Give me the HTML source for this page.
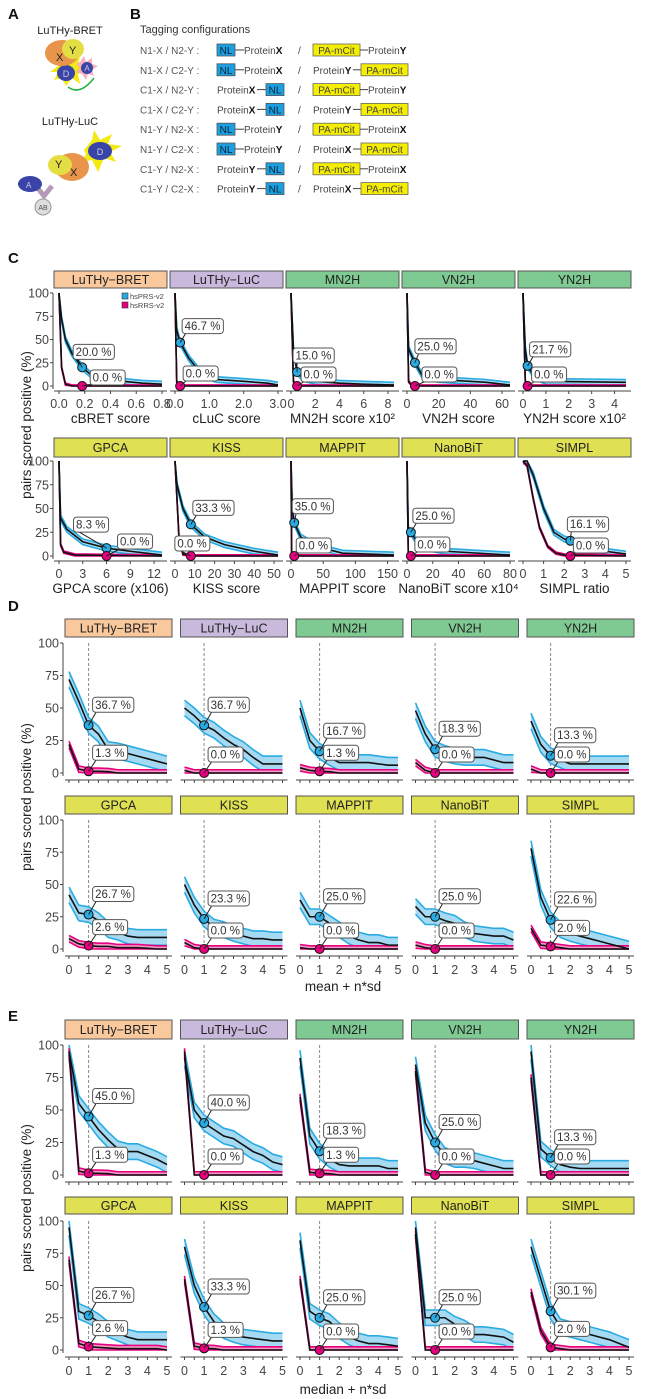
<!DOCTYPE html>
<html><head><meta charset="utf-8">
<style>
html,body{margin:0;padding:0;background:#fff;}
svg{display:block;font-family:"Liberation Sans",sans-serif;}
</style></head>
<body>
<svg id="fig" width="651" height="1399" viewBox="0 0 651 1399" xmlns="http://www.w3.org/2000/svg">
<!-- Panel A -->
<g>
<text x="8" y="19" font-size="15" font-weight="bold" fill="#111">A</text>
<text x="70" y="34" font-size="11" text-anchor="middle" fill="#222">LuTHy-BRET</text>
<polygon points="50,72 58,66 56,58 64,62 66,54 72,60 80,56 78,65 86,70 78,74 80,84 72,78 66,86 62,78 54,80 58,72" fill="#f2ea10"/>
<ellipse cx="66" cy="73" rx="9" ry="8" fill="#3a44a8"/>
<text x="66" y="77" font-size="9" text-anchor="middle" fill="#ccd">D</text>
<polygon points="80,62 84,56 86,62 92,58 92,64 98,66 92,70 94,76 88,74 86,80 82,74 76,72 80,68 76,64" fill="#f7a8b8" opacity="0.9"/>
<ellipse cx="87" cy="68" rx="6" ry="6" fill="#3a44a8"/>
<text x="87" y="71" font-size="8" text-anchor="middle" fill="#ccd">A</text>
<ellipse cx="62" cy="53" rx="17" ry="13" fill="#e8944a"/>
<ellipse cx="73" cy="49" rx="11" ry="10" fill="#e4de45"/>
<text x="56" y="61" font-size="11" fill="#222">X</text>
<text x="69" y="54" font-size="11" fill="#222">Y</text>
<path d="M68 87 Q80 96 94 78" stroke="#2bb34a" stroke-width="1.6" fill="none"/>
<text x="70" y="125" font-size="11" text-anchor="middle" fill="#222">LuTHy-LuC</text>
<polygon points="84,150 92,140 94,130 100,140 112,134 108,144 122,146 110,152 116,162 104,158 98,172 92,160 82,162 86,154" fill="#f2ea10"/>
<ellipse cx="100" cy="151" rx="12" ry="9" fill="#3a44a8"/>
<text x="100" y="155" font-size="9" text-anchor="middle" fill="#ccd">D</text>
<ellipse cx="72" cy="167" rx="17" ry="14" fill="#e8944a"/>
<ellipse cx="60" cy="165" rx="12" ry="10" fill="#e4de45"/>
<text x="55" y="168" font-size="11" fill="#222">Y</text>
<text x="70" y="176" font-size="11" fill="#222">X</text>
<path d="M36 186 L44 196 L52 186" stroke="#b49ab8" stroke-width="5" fill="none"/>
<ellipse cx="30" cy="184" rx="12" ry="8" fill="#3a44a8"/>
<text x="26" y="188" font-size="8" fill="#ccd">A</text>
<circle cx="43" cy="207" r="8" fill="#ddd" stroke="#999"/>
<text x="43" y="210" font-size="7" text-anchor="middle" fill="#555">AB</text>
</g>
<!-- Panel B -->
<g id="panelB">
<text x="130" y="19" font-size="15" font-weight="bold" fill="#111">B</text>
<text x="140" y="33" font-size="11" fill="#333">Tagging configurations</text>
</g>
<g id="charts"></g>
</svg>
<script>
// ---------- Panel B data ----------
const bLabels = ["N1-X / N2-Y :","N1-X / C2-Y :","C1-X / N2-Y :","C1-X / C2-Y :","N1-Y / N2-X :","N1-Y / C2-X :","C1-Y / N2-X :","C1-Y / C2-X :"];
const bLeftProt = ["X","X","X","X","Y","Y","Y","Y"];
const bLeftN = [true,true,false,false,true,true,false,false];
const bRightProt = ["Y","Y","Y","Y","X","X","X","X"];
const bRightN = [true,false,true,false,true,false,true,false];

// ---------- Panel C data ----------
const cNames = ["LuTHy\u2212BRET","LuTHy\u2212LuC","MN2H","VN2H","YN2H","GPCA","KISS","MAPPIT","NanoBiT","SIMPL"];
const cXTitles = ["cBRET score","cLuC score","MN2H score x10\u00b2","VN2H score","YN2H score x10\u00b2","GPCA score (x106)","KISS score","MAPPIT score","NanoBiT score x10\u2074","SIMPL ratio"];
const cXMax = [0.8,3,8.5,65,4.5,13,52,160,80,5];
const cTicks = [[0,0.2,0.4,0.6,0.8],[0,1,2,3],[0,2,4,6,8],[0,20,40,60],[0,1,2,3,4],[0,3,6,9,12],[0,10,20,30,40,50],[0,50,100,150],[0,20,40,60,80],[0,1,2,3,4,5]];
const cTickLabels = [["0.0","0.2","0.4","0.6","0.8"],["0.0","1.0","2.0","3.0"],["0","2","4","6","8"],["0","20","40","60"],["0","1","2","3","4"],["0","3","6","9","12"],["0","10","20","30","40","50"],["0","50","100","150"],["0","20","40","60","80"],["0","1","2","3","4","5"]];
const cPrsX = [[0,0.02,0.05,0.1,0.18,0.25,0.35,0.5,0.65,0.8],[0,0.05,0.15,0.4,0.8,1.2,2,2.7,3],[0,0.2,0.5,1,2,4,6,8.5],[0,1,5,10,20,50,65],[0,0.1,0.2,0.5,1,4.5],[0,0.2,1,3,6,9,13],[0,1,4,8,15,25,40,52],[0,2,5,15,40,80,160],[0,1,3,10,30,80],[0,0.2,0.5,1,1.5,2,2.3,3,4,5]];
const cPrsY = [[100,72,50,35,20,12,7,5,3,2],[100,60,46.7,30,12,7,5,3,1],[100,40,15,8,5,3,2,1],[100,40,25,10,7,4,1],[100,40,21.7,10,5,4],[100,40,28,15,8.3,5,1],[100,75,50,33.3,20,12,5,1],[100,50,35,20,10,3,1],[100,28,25,10,5,1],[100,100,85,50,25,18,16.1,10,5,2]];
const cRrsX = [[0,0.02,0.05,0.1,0.8],[0,0.05,0.1,3],[0,0.2,0.4,8.5],[0,1,3,65],[0,0.1,0.2,4.5],[0,0.2,0.6,2,13],[0,2,4,8,52],[0,1,3,160],[0,1,2,80],[0,0.2,0.5,0.8,1.2,1.6,2,5]];
const cRrsY = [[100,20,2,0,0],[100,5,0,0],[100,5,0,0],[100,5,0,0],[100,5,0,0],[100,12,4,1,0],[100,20,2,0,0],[100,3,0,0],[100,3,0,0],[100,95,60,30,10,3,1,0]];
const cMarkX = [0.18,0.15,0.5,5,0.2,6,8,5,3,2.3];
const cPrsLab = ["20.0 %","46.7 %","15.0 %","25.0 %","21.7 %","8.3 %","33.3 %","35.0 %","25.0 %","16.1 %"];
const cPrsVal = [20,46.7,15,25,21.7,8.3,33.3,35,25,16.1];
const cRrsLab = ["0.0 %","0.0 %","0.0 %","0.0 %","0.0 %","0.0 %","0.0 %","0.0 %","0.0 %","0.0 %"];
const cRrsVal = [0,0,0,0,0,0,0,0,0,0];

// ---------- Panel D data (mean + n*sd) ----------
const nSteps = [0,0.5,1,1.5,2,2.5,3,3.5,4,4.5,5];
const dPrs = [[72,55,36.7,30,18,17,15,13,11,9,7],[50,44,36.7,33,27,22,18,12,7,7,7],[50,25,16.7,12,8,8,8,8,7,6,6],[48,30,18.3,15,13,12,12,12,10,8,8],[40,22,13.3,10,7,7,7,7,7,7,7],[42,28,26.7,22,15,13,10,9,9,9,9],[50,34,23.3,17,15,12,10,8,8,7,7],[38,25,25.0,20,15,10,7,5,5,3,3],[33,25,25.0,22,20,15,12,11,10,10,7],[78,40,22.6,15,12,10,8,6,4,2,0]];
const dRrs = [[22,3,1.3,1.3,1,0,0,0,0,0,0],[2,0,0,0,0,0,0,0,0,0,0],[4,2,1.3,1,0,0,0,0,0,0,0],[8,2,0,0,0,0,0,0,0,0,0],[3,0,0,0,0,0,0,0,0,0,0],[8,4,2.6,2,2,1,1,1,0.5,0,0],[5,1,0,0,0,0,0,0,0,0,0],[1,0,0,0,0,0,0,0,0,0,0],[3,1,0,0,0,0,0,0,0,0,0],[16,3,2,1,0,0,0,0,0,0,0]];
const dPrsLab = ["36.7 %","36.7 %","16.7 %","18.3 %","13.3 %","26.7 %","23.3 %","25.0 %","25.0 %","22.6 %"];
const dRrsLab = ["1.3 %","0.0 %","1.3 %","0.0 %","0.0 %","2.6 %","0.0 %","0.0 %","0.0 %","2.0 %"];

// ---------- Panel E data (median + n*sd) ----------
const ePrs = [[95,55,45,35,27,20,18,18,15,12,8],[90,50,40,35,30,28,23,18,15,10,8],[90,30,18.3,12,8,7,7,7,7,5,5],[85,40,25,15,12,12,11,9,7,5,5],[95,20,13.3,8,6,5,5,5,5,5,5],[95,30,26.7,22,16,13,10,8,8,8,8],[80,50,33.3,22,15,12,10,9,8,7,7],[85,30,25,22,15,10,7,5,5,4,3],[95,25,25,25,20,17,12,12,11,10,6],[80,55,30.1,18,16,14,12,10,8,5,2]];
const eRrs = [[95,3,1.3,1.3,1,0,0,0,0,0,0],[95,0,0,0,0,0,0,0,0,0,0],[60,2,1.3,1,0,0,0,0,0,0,0],[80,2,0,0,0,0,0,0,0,0,0],[75,0,0,0,0,0,0,0,0,0,0],[70,5,2.6,2,1.5,1,1,1,1,1,0],[55,3,1.3,1,0,0,0,0,0,0,0],[55,0,0,0,0,0,0,0,0,0,0],[90,0,0,0,0,0,0,0,0,0,0],[45,15,2,1,0,0,0,0,0,0,0]];
const ePrsLab = ["45.0 %","40.0 %","18.3 %","25.0 %","13.3 %","26.7 %","33.3 %","25.0 %","25.0 %","30.1 %"];
const eRrsLab = ["1.3 %","0.0 %","1.3 %","0.0 %","0.0 %","2.6 %","1.3 %","0.0 %","0.0 %","2.0 %"];

const yTicks = [0,25,50,75,100];

// ---------- drawing ----------
const NS = "http://www.w3.org/2000/svg";
const stripCols = ["#f9c89c","#c9badd","#7fca92","#7fca92","#7fca92","#dfe052","#dfe052","#dfe052","#dfe052","#dfe052"];
const BLUE="#29abe2", BLUEF="#a6daf2", PINK="#e6007e", PINKF="#f29ac6";
function mk(tag, attrs, parent, txt){
  const e=document.createElementNS(NS,tag);
  for(const k in attrs) e.setAttribute(k,attrs[k]);
  if(txt!==undefined) e.textContent=txt;
  parent.appendChild(e); return e;
}
const root=document.getElementById("charts");

// Panel B rows
const pb=document.getElementById("panelB");
bLabels.forEach((lab,i)=>{
  const y=50+i*19.8;
  const g=mk("g",{},pb);
  
  
  mk("text",{x:140,y:y+4,"font-size":10,fill:"#555"},g,lab);
  // left construct
  function nl(x){const r=mk("rect",{x:x,y:y-6,width:18,height:12,fill:"#1a9fe0",stroke:"#555","stroke-width":0.8},g);
    mk("text",{x:x+9,y:y+4,"font-size":10,"text-anchor":"middle",fill:"#123"},g,"NL");}
  function pa(x){mk("rect",{x:x,y:y-6,width:47,height:12,fill:"#f5ee00",stroke:"#666","stroke-width":0.8},g);
    mk("text",{x:x+23.5,y:y+4,"font-size":10,"text-anchor":"middle",fill:"#444"},g,"PA-mCit");}
  function prot(x,p,anchor){const t=mk("text",{x:x,y:y+4,"font-size":10,fill:"#444","text-anchor":anchor||"start"},g,"Protein");
    const b=mk("tspan",{"font-weight":"bold",fill:"#111"},t,p);}
  if(bLeftN[i]){nl(217);mk("line",{x1:235,y1:y,x2:244,y2:y,stroke:"#444"},g);prot(244,bLeftProt[i]);}
  else{prot(217,bLeftProt[i]);mk("line",{x1:257,y1:y,x2:266,y2:y,stroke:"#444"},g);nl(266);}
  mk("text",{x:298,y:y+4,"font-size":10,fill:"#444"},g,"/");
  if(bRightN[i]){pa(313);mk("line",{x1:360,y1:y,x2:368,y2:y,stroke:"#444"},g);prot(368,bRightProt[i]);}
  else{prot(313,bRightProt[i]);mk("line",{x1:353,y1:y,x2:361,y2:y,stroke:"#444"},g);pa(361);}
});

function label(g,mx,my,txt,bx,by){
  const w=txt.length*6.2+4;
  mk("line",{x1:mx,y1:my,x2:bx+4,y2:by+14,stroke:"#222","stroke-width":1},g);
  mk("rect",{x:bx,y:by,width:w,height:15,rx:3,fill:"#fff",stroke:"#555","stroke-width":1},g);
  mk("text",{x:bx+2.5,y:by+11.5,"font-size":11.5,fill:"#333"},g,txt);
}
function band(g,pts,fill,edge,w,sx,sy){
  const up=pts.map(p=>[sx(p[0]),sy(Math.min(100,p[1]+w))]);
  const lo=pts.map(p=>[sx(p[0]),sy(Math.max(0,p[1]-w))]);
  mk("polygon",{points:up.concat(lo.slice().reverse()).map(p=>p.join(",")).join(" "),fill:fill,stroke:"none"},g);
  mk("polyline",{points:up.map(p=>p.join(",")).join(" "),fill:"none",stroke:edge,"stroke-width":1.6},g);
  mk("polyline",{points:lo.map(p=>p.join(",")).join(" "),fill:"none",stroke:edge,"stroke-width":1.6},g);
}
function line(g,pts,sx,sy){
  mk("polyline",{points:pts.map(p=>sx(p[0])+","+sy(p[1])).join(" "),fill:"none",stroke:"#111","stroke-width":1.6},g);
}
function strip(g,x,y1,y2,w,i){
  mk("rect",{x:x,y:y1,width:w,height:y2-y1,fill:stripCols[i],stroke:"#555","stroke-width":1},g);
  mk("text",{x:x+w/2,y:(y1+y2)/2+4.5,"font-size":12.5,"text-anchor":"middle",fill:"#222"},g,cNames[i]);
}
function yAxis(g,x,top,bot){
  mk("line",{x1:x,y1:top,x2:x,y2:bot+3,stroke:"#444","stroke-width":1},g);
  yTicks.forEach(t=>{const y=bot-(bot-top)*t/100;
    mk("line",{x1:x-3,y1:y,x2:x,y2:y,stroke:"#444"},g);
    mk("text",{x:x-4,y:y+4.5,"font-size":12.5,"text-anchor":"end",fill:"#444"},g,String(t));});
}
function yTitle(cy){
  const t=mk("text",{x:0,y:0,"font-size":13.5,"text-anchor":"middle",fill:"#222",transform:`translate(31,${cy}) rotate(-90)`},root,"pairs scored positive (%)");
  
  
}
function panelLetter(l,y){
  const t=mk("text",{x:8,y:y,"font-size":15,"font-weight":"bold",fill:"#111"},root,l);
  
  
}

// ---- Panel C ----
panelLetter("C",263);
const cRows=[{s1:271,s2:288,top:293,bot:386,ax:391,lab:404,tit:419},{s1:438,s2:457,top:461,bot:556,ax:561,lab:574,tit:589}];
const cPrsOff=[[-9,-23],[2,-24],[-4,-24],[0,-24],[2,-24],[-33,-31],[2,-24],[-2,-24],[2,-24],[-3,-24]];
const cRrsOff=[[8,-16],[3,-20],[4,-19],[7,-19],[4,-19],[11,-22],[-16,-20],[2,-18],[4,-19],[3,-18]];
for(let i=0;i<10;i++){
  const r=cRows[Math.floor(i/5)], col=i%5, px=54+col*116, w=113;
  const g=mk("g",{},root);
  
  
  strip(g,px,r.s1,r.s2,w,i);
  const sx=v=>px+5+(w-10)*v/cXMax[i], sy=v=>r.bot-(r.bot-r.top)*v/100;
  mk("line",{x1:px,y1:r.ax,x2:px+w,y2:r.ax,stroke:"#444"},g);
  cTicks[i].forEach((t,k)=>{mk("line",{x1:sx(t),y1:r.ax,x2:sx(t),y2:r.ax+3,stroke:"#444"},g);
    mk("text",{x:sx(t),y:r.lab+4,"font-size":12.5,"text-anchor":"middle",fill:"#444"},g,cTickLabels[i][k]);});
  mk("text",{x:px+w/2,y:r.tit+4,"font-size":13.5,"text-anchor":"middle",fill:"#222"},g,cXTitles[i]);
  if(col===0) yAxis(g,px-1,r.top,r.bot);
  const prs=cPrsX[i].map((x,k)=>[x,cPrsY[i][k]]), rrs=cRrsX[i].map((x,k)=>[x,cRrsY[i][k]]);
  band(g,prs,BLUEF,BLUE,3,sx,sy); band(g,rrs,PINKF,PINK,1.2,sx,sy);
  line(g,rrs,sx,sy); line(g,prs,sx,sy);
  const mx=sx(cMarkX[i]);
  const m1=mk("circle",{cx:mx,cy:sy(cPrsVal[i]),r:4.5,fill:BLUE,stroke:"#111","stroke-width":1},g);
  
  
  const m2=mk("circle",{cx:mx,cy:sy(cRrsVal[i]),r:4.5,fill:PINK,stroke:"#111","stroke-width":1},g);
  
  
  label(g,mx,sy(cPrsVal[i]),cPrsLab[i],mx+cPrsOff[i][0],sy(cPrsVal[i])+cPrsOff[i][1]);
  label(g,mx,sy(cRrsVal[i]),cRrsLab[i],mx+cRrsOff[i][0],sy(cRrsVal[i])+cRrsOff[i][1]);
  if(i===0){
    const lg=mk("g",{},g);
    
    
    mk("rect",{x:122,y:293,width:6,height:6,fill:BLUE,stroke:"#333","stroke-width":0.6},lg);
    mk("text",{x:130,y:299,"font-size":7.5,fill:"#444"},lg,"hsPRS-v2");
    mk("rect",{x:122,y:302,width:6,height:6,fill:PINK,stroke:"#333","stroke-width":0.6},lg);
    mk("text",{x:130,y:308,"font-size":7.5,fill:"#444"},lg,"hsRRS-v2");
  }
}
yTitle(425);

// ---- Panels D / E ----
function nsdPanel(letter,ly,rows,prsA,rrsA,prsL,rrsL,xTitle,yc){
  panelLetter(letter,ly);
  for(let i=0;i<10;i++){
    const r=rows[Math.floor(i/5)], col=i%5, px=65+col*115.5, w=107;
    const g=mk("g",{},root);
    
    
    strip(g,px,r.s1,r.s2,w,i);
    const sx=v=>px+4+(w-9)*v/5, sy=v=>r.bot-(r.bot-r.top)*v/100;
    mk("line",{x1:px,y1:r.ax,x2:px+w,y2:r.ax,stroke:"#444"},g);
    nSteps.forEach(t=>{mk("line",{x1:sx(t),y1:r.ax,x2:sx(t),y2:r.ax+3,stroke:"#444"},g);
      if(r.lab && t%1===0) mk("text",{x:sx(t),y:r.lab+4,"font-size":12.5,"text-anchor":"middle",fill:"#444"},g,String(t));});
    if(col===0) yAxis(g,px-2,r.top,r.bot);
    mk("line",{x1:sx(1),y1:r.top,x2:sx(1),y2:r.bot,stroke:"#888","stroke-width":1,"stroke-dasharray":"3,2"},g);
    const prs=nSteps.map((x,k)=>[x,prsA[i][k]]), rrs=nSteps.map((x,k)=>[x,rrsA[i][k]]);
    band(g,prs,BLUEF,BLUE,6,sx,sy); band(g,rrs,PINKF,PINK,2.5,sx,sy);
    line(g,rrs,sx,sy); line(g,prs,sx,sy);
    const mx=sx(1), py=sy(prsA[i][2]), ry=sy(rrsA[i][2]);
    const m1=mk("circle",{cx:mx,cy:py,r:4.5,fill:BLUE,stroke:"#111","stroke-width":1},g);
    
    
    const m2=mk("circle",{cx:mx,cy:ry,r:4.5,fill:PINK,stroke:"#111","stroke-width":1},g);
    
    
    label(g,mx,py,prsL[i],mx+4,py-28);
    label(g,mx,ry,rrsL[i],mx+4,ry-26);
  }
  const t=mk("text",{x:343,y:rows[1].tit+4,"font-size":13.5,"text-anchor":"middle",fill:"#222"},root,xTitle);
  
  
  yTitle(yc);
}
nsdPanel("D",611,[{s1:619,s2:637,top:643,bot:773,ax:780},{s1:796,s2:814,top:820,bot:949,ax:956,lab:970,tit:987}],dPrs,dRrs,dPrsLab,dRrsLab,"mean + n*sd",797);
nsdPanel("E",1021,[{s1:1020,s2:1039,top:1045,bot:1175,ax:1182},{s1:1197,s2:1214,top:1221,bot:1350,ax:1357,lab:1371,tit:1390}],ePrs,eRrs,ePrsLab,eRrsLab,"median + n*sd",1198);
</script>
</body></html>
